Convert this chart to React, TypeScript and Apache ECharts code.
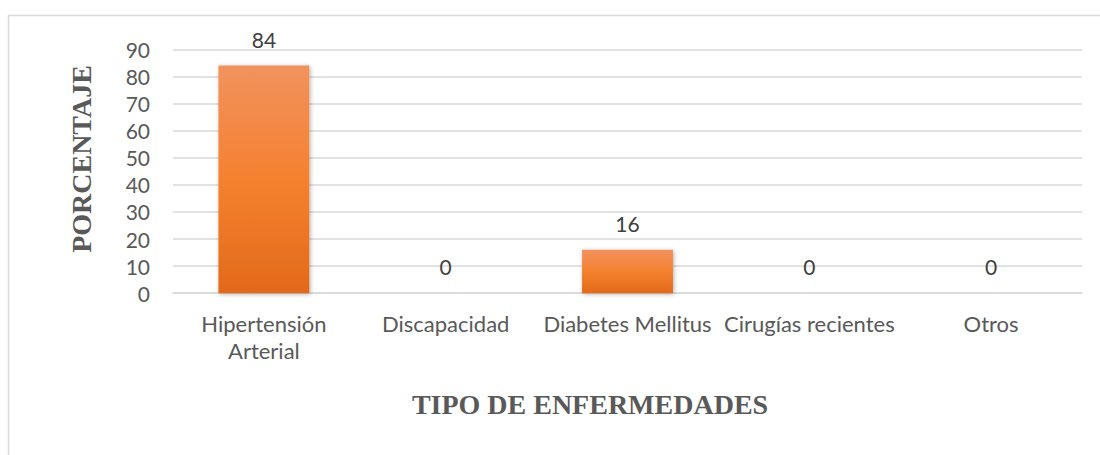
import React, { useEffect, useRef } from "react";
import * as echarts from "echarts";

const categories = ["Hipertensión\nArterial", "Discapacidad", "Diabetes Mellitus", "Cirugías recientes", "Otros"];
const values = [84, 0, 16, 0, 0];
const yTicks = [0, 10, 20, 30, 40, 50, 60, 70, 80, 90];
const yTitle = "PORCENTAJE";
const xTitle = "TIPO DE ENFERMEDADES";

const SANS = "Lato, 'Noto Sans', sans-serif";
const SERIF = "'Liberation Serif', 'DejaVu Serif', serif";

export default function App() {
  const ref = useRef<HTMLDivElement>(null);
  useEffect(() => {
    if (!ref.current) return;
    const chart = echarts.init(ref.current, undefined, { renderer: "svg" });
    chart.setOption({
      animation: false,
      backgroundColor: "#ffffff",
      grid: { left: 173, right: 18, top: 49.3, bottom: 161.8, containLabel: false },
      xAxis: {
        type: "category",
        data: categories,
        axisLine: { show: true, lineStyle: { color: "#d9d9d9", width: 1.5 } },
        axisTick: { show: false },
        axisLabel: {
          color: "#595959",
          fontFamily: SANS,
          fontSize: 22,
          lineHeight: 27,
          margin: 17,
          interval: 0,
        },
      },
      yAxis: {
        type: "value",
        min: yTicks[0],
        max: yTicks[yTicks.length - 1],
        interval: 10,
        axisLine: { show: false },
        axisTick: { show: false },
        splitLine: { lineStyle: { color: "#d9d9d9", width: 1.5 } },
        axisLabel: {
          color: "#595959",
          fontFamily: SANS,
          fontSize: 21,
          margin: 23,
        },
      },
      series: [
        {
          type: "bar",
          data: values,
          barWidth: "50%",
          itemStyle: {
            color: new echarts.graphic.LinearGradient(0, 0, 0, 1, [
              { offset: 0, color: "#F1925E" },
              { offset: 0.5, color: "#F5812F" },
              { offset: 1, color: "#E2691A" },
            ]),
            shadowBlur: 4,
            shadowColor: "rgba(0,0,0,0.3)",
            shadowOffsetX: 1,
            shadowOffsetY: 1,
          },
          label: {
            show: true,
            position: "top",
            distance: 16,
            color: "#404040",
            fontFamily: SANS,
            fontSize: 21,
          },
        },
      ],
      graphic: [
        {
          type: "rect",
          shape: { x: 8.5, y: 15.5, width: 1200, height: 600 },
          style: { fill: "none", stroke: "#d9d9d9", lineWidth: 1.5 },
          silent: true,
        },
        {
          type: "text",
          x: 81,
          y: 159,
          rotation: Math.PI / 2,
          style: {
            text: yTitle,
            fill: "#595959",
            font: `bold 28px ${SERIF}`,
            align: "center",
            verticalAlign: "middle",
          },
        },
        {
          type: "text",
          x: 590,
          y: 404,
          style: {
            text: xTitle,
            fill: "#595959",
            font: `bold 28px ${SERIF}`,
            align: "center",
            verticalAlign: "middle",
          },
        },
      ],
    });
    return () => chart.dispose();
  }, []);
  return (
    <div
      ref={ref}
      style={{ position: "fixed", left: 0, top: 0, width: 1100, height: 455 }}
    />
  );
}
